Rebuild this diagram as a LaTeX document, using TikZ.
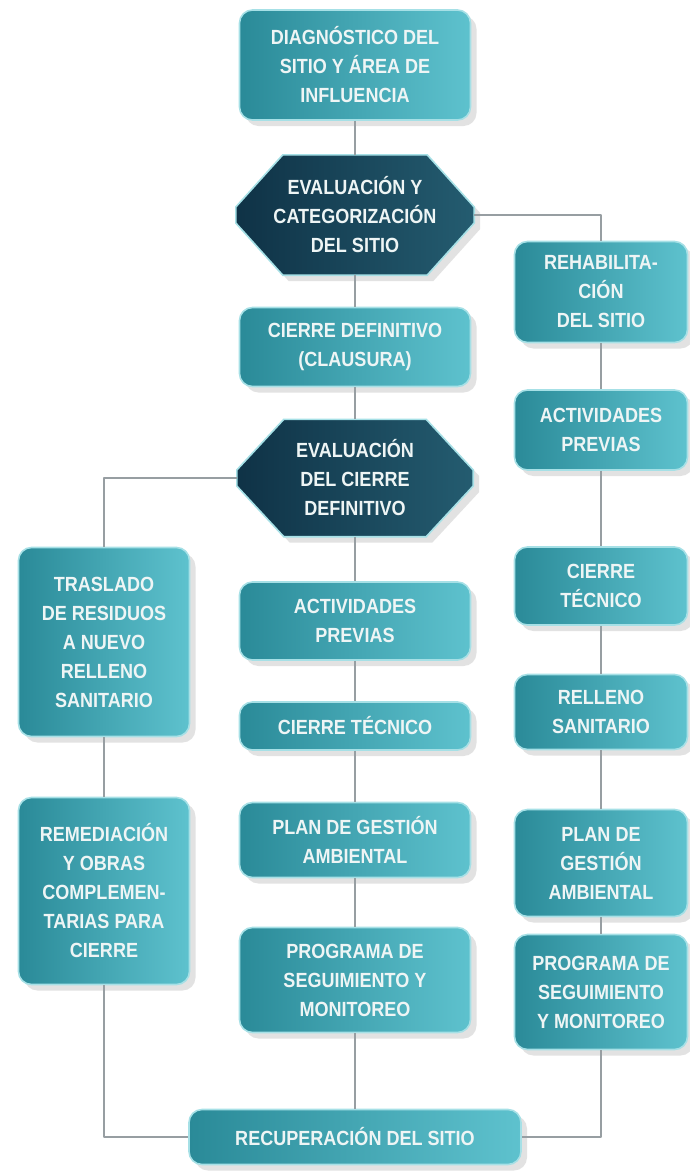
\documentclass[tikz,border=0pt]{standalone}
\usepackage{fontspec}
\setmainfont{Liberation Sans}[FakeStretch=0.88]
\usetikzlibrary{shadows,backgrounds}
\definecolor{tealdark}{HTML}{2A8A98}
\definecolor{teallight}{HTML}{5EC2CE}
\definecolor{tealrim}{HTML}{A6E0E6}
\definecolor{navydark}{HTML}{0F3246}
\definecolor{navylight}{HTML}{245C70}
\definecolor{linegray}{HTML}{979EA2}
\definecolor{txtwhite}{HTML}{EEF5F5}
\tikzset{
	caja/.style={rounded corners=13pt,left color=tealdark,right color=teallight,draw=tealrim,line width=1.6pt,
		drop shadow={shadow xshift=6pt,shadow yshift=-6pt,fill=black!22},text=txtwhite,align=center,inner sep=0pt},
	octa/.style={text=txtwhite,align=center,inner sep=0pt},
	octafill/.style={left color=navydark,right color=navylight,draw=tealrim,line width=1.6pt,
		drop shadow={shadow xshift=6pt,shadow yshift=-6pt,fill=black!22}},
	enlace/.style={draw=linegray,line width=1.6pt}
}
\begin{document}
\begin{tikzpicture}[x=1pt,y=-1pt,line join=round,font={\fontsize{20.5}{29}\selectfont\bfseries}]
				\def\xc{355}
				\def\xr{601}
				\def\xl{104}
				\def\wc{231pt}
				\def\wr{173pt}
				\def\wl{171pt}
				\useasboundingbox (0,0) rectangle (689,1176);
				% columna central
				\node[caja,minimum width=\wc,minimum height=110pt] (diag) at (\xc,65) {DIAGNÓSTICO DEL\\SITIO Y ÁREA DE\\INFLUENCIA};
				\node[octa,minimum width=238pt,minimum height=120pt] (eval1) at (\xc,215) {EVALUACIÓN Y\\CATEGORIZACIÓN\\DEL SITIO};
				\node[caja,minimum width=\wc,minimum height=79pt] (cierdef) at (\xc,347) {CIERRE DEFINITIVO\\(CLAUSURA)};
				\node[octa,minimum width=236pt,minimum height=117pt] (eval2) at (\xc,478) {EVALUACIÓN\\DEL CIERRE\\DEFINITIVO};
				\node[caja,minimum width=\wc,minimum height=78pt] (actc) at (\xc,621) {ACTIVIDADES\\PREVIAS};
				\node[caja,minimum width=\wc,minimum height=48pt] (tecc) at (\xc,726) {CIERRE TÉCNICO};
				\node[caja,minimum width=\wc,minimum height=75pt] (planc) at (\xc,840) {PLAN DE GESTIÓN\\AMBIENTAL};
				\node[caja,minimum width=\wc,minimum height=105pt] (progc) at (\xc,980) {PROGRAMA DE\\SEGUIMIENTO Y\\MONITOREO};
				\node[caja,minimum width=332pt,minimum height=55pt] (recup) at (\xc,1137) {RECUPERACIÓN DEL SITIO};
				% columna derecha
				\node[caja,minimum width=\wr,minimum height=101pt] (rehab) at (\xr,292) {REHABILITA-\\CIÓN\\DEL SITIO};
				\node[caja,minimum width=\wr,minimum height=80pt] (actr) at (\xr,430) {ACTIVIDADES\\PREVIAS};
				\node[caja,minimum width=\wr,minimum height=78pt] (tecr) at (\xr,586) {CIERRE\\TÉCNICO};
				\node[caja,minimum width=\wr,minimum height=75pt] (rell) at (\xr,712) {RELLENO\\SANITARIO};
				\node[caja,minimum width=\wr,minimum height=107pt] (planr) at (\xr,863) {PLAN DE\\GESTIÓN\\AMBIENTAL};
				\node[caja,minimum width=\wr,minimum height=115pt] (progr) at (\xr,992) {PROGRAMA DE\\SEGUIMIENTO\\Y MONITOREO};
				% columna izquierda
				\node[caja,minimum width=\wl,minimum height=189pt] (trasl) at (\xl,642) {TRASLADO\\DE RESIDUOS\\A NUEVO\\RELLENO\\SANITARIO};
				\node[caja,minimum width=\wl,minimum height=187pt] (remed) at (\xl,891) {REMEDIACIÓN\\Y OBRAS\\COMPLEMEN-\\TARIAS PARA\\CIERRE};
				\begin{scope}[on background layer]
				\fill[white] (0,0) rectangle (689,1176);
				\foreach \n in {eval1,eval2}
				\draw[octafill] ([xshift=47pt]\n.north west)--([xshift=-47pt]\n.north east)--([yshift=8pt]\n.east)--([yshift=-8pt]\n.east)
					--([xshift=-47pt]\n.south east)--([xshift=47pt]\n.south west)--([yshift=-8pt]\n.west)--([yshift=8pt]\n.west)--cycle;
				\end{scope}
				\draw[enlace] (diag)--(eval1) (eval1)--(cierdef) (cierdef)--(eval2) (eval2)--(actc) (actc)--(tecc) (tecc)--(planc) (planc)--(progc) (progc)--(recup);
				\draw[enlace] (eval1.east)-|(rehab.north) (rehab)--(actr) (actr)--(tecr) (tecr)--(rell) (rell)--(planr) (planr)--(progr) (progr.south)|-(recup.east);
				\draw[enlace] (eval2.west)-|(trasl.north) (trasl)--(remed) (remed.south)|-(recup.west);
	\end{tikzpicture}
\end{document}
